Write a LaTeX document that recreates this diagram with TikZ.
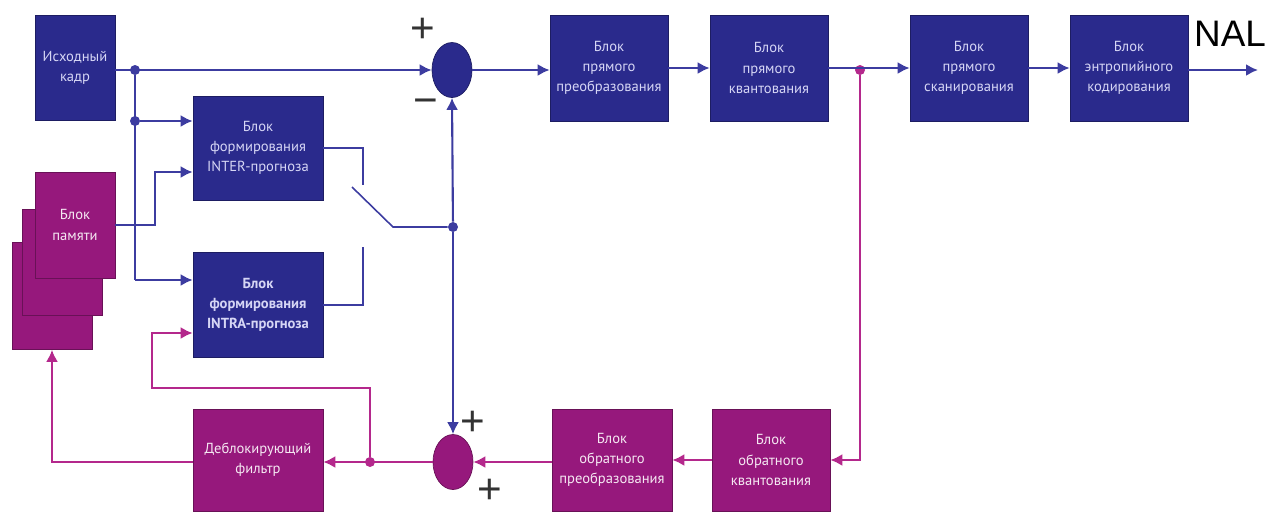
\documentclass[tikz,border=0pt]{standalone}
\usepackage{fontspec}
\setmainfont{PT Sans}
\newfontfamily\nalfont{Liberation Sans}
\usepackage{tikz}
\usetikzlibrary{arrows.meta,positioning,shapes.geometric,calc}
\definecolor{DarkBlue}{RGB}{42,42,140}
\definecolor{LineBlue}{RGB}{60,60,160}
\definecolor{Plum}{RGB}{150,24,124}
\definecolor{LinePlum}{RGB}{180,40,140}
\definecolor{BoxText}{RGB}{214,214,245}

\begin{document}
\begin{tikzpicture}[
 x=0.02cm, y=-0.02cm,
 blk/.style={draw=DarkBlue!70!black, fill=DarkBlue, text=BoxText, align=center,
   minimum width=2.36cm, minimum height=2.12cm, inner sep=1pt,
   font=\fontsize{8.3}{11.5}\selectfont},
 pblk/.style={blk, draw=Plum!70!black, fill=Plum, text=white!90!Plum},
 sumnode/.style={ellipse, draw=DarkBlue!70!black, fill=DarkBlue, minimum width=0.8cm, minimum height=1.1cm, inner sep=0pt},
 psumnode/.style={sumnode, draw=Plum!70!black, fill=Plum},
 sign/.style={inner sep=0pt, text=black!80, font=\nalfont\fontsize{24}{24}\selectfont},
 bl/.style={draw=LineBlue, line width=1.2pt},
 pl/.style={draw=LinePlum, line width=1.2pt},
 barr/.style={bl, -{Latex[length=2.4mm,width=2.4mm]}},
 parr/.style={pl, -{Latex[length=2.4mm,width=2.4mm]}},
 bdot/.style={circle, fill=LineBlue, inner sep=0pt, minimum size=0.2cm},
 pdot/.style={circle, fill=LinePlum, inner sep=0pt, minimum size=0.2cm}
]
\useasboundingbox (0,0) rectangle (1269,515);

% upper row
\node[blk, minimum width=1.6cm, minimum height=2.1cm] (src) at (75,68) {Исходный\\кадр};
\node[sumnode] (sub) at (452,70) {};
\node[blk] (dct) at (609,68) {Блок\\прямого\\преобразования};
\node[blk] (quant) at (769,68) {Блок\\прямого\\квантования};
\node[blk] (scan) at (969,68) {Блок\\прямого\\сканирования};
\node[blk] (ent) at (1129,68) {Блок\\энтропийного\\кодирования};
\node[font=\nalfont\fontsize{21}{21}\selectfont, inner sep=0pt] (nal) at (1230,34) {NAL};
\coordinate (out) at (1258,70);

% prediction
\node[blk, minimum width=2.6cm, minimum height=2.08cm] (inter) at (258,148) {Блок\\формирования\\INTER-прогноза};
\node[blk, minimum width=2.6cm, minimum height=2.1cm, font=\fontsize{8.3}{11.5}\selectfont\bfseries] (intra) at (258,305) {Блок\\формирования\\INTRA-прогноза};

% memory (stacked)
\node[pblk, minimum width=1.6cm, minimum height=2.14cm] (mem3) at (52,296) {};
\node[pblk, minimum width=1.6cm, minimum height=2.12cm] (mem2) at (62,262) {};
\node[pblk, minimum width=1.6cm, minimum height=2.12cm] (mem1) at (75,225) {Блок\\памяти};

% lower row
\node[pblk, minimum width=2.6cm, minimum height=2.04cm] (dbf) at (258,460) {Деблокирующий\\фильтр};
\node[psumnode] (add) at (453,462) {};
\node[pblk, minimum width=2.4cm, minimum height=2.04cm] (idct) at (612,460) {Блок\\обратного\\преобразования};
\node[pblk, minimum width=2.36cm, minimum height=2.04cm] (iquant) at (771,460) {Блок\\обратного\\квантования};

% signs
\node[sign] (p1) at (423,30) {+};
\node[sign] (m1) at (426,107) {−};
\node[sign] (p2) at (473,423) {+};
\node[sign] (p3) at (490,491) {+};

% junctions
\node[bdot] (j1) at (135,70) {};
\node[bdot] (j2) at (135,121) {};
\coordinate (j3) at (135,280);
\node[bdot] (jsw) at (453,227) {};
\node[pdot] (jq) at (860,70) {};
\node[pdot] (jd) at (370,462) {};
\coordinate (m0) at (155,172);
\coordinate (sw0) at (352,187);
\coordinate (sw1) at (363,185);
\coordinate (sw2) at (393,227);
\coordinate (sw3) at (363,247);
\coordinate (lp1) at (370,388);
\coordinate (lp2) at (152,388);
\coordinate (lp3) at (152,333);

% forward path
\draw[barr] (src.east |- j1) -- (sub);
\draw[barr] (sub) -- (dct.west |- sub);
\draw[barr] (dct) -- (quant);
\draw[barr] (quant) -- (scan);
\draw[barr] (scan) -- (ent);
\draw[barr] (ent.east |- out) -- (out);

% prediction inputs
\draw[bl] (j1) -- (j3);
\draw[barr] (j2) -- (j2 -| inter.west);
\draw[barr] (j3) -- (j3 -| intra.west);
\draw[barr] (mem1.east) -| (m0) -- (m0 -| inter.west);

% switch
\draw[bl, line width=0.9pt] (inter.east) -| (sw1);
\draw[bl, line width=0.9pt] (intra.east) -| (sw3);
\draw[bl, line width=0.9pt] (sw0) -- (sw2) -- (jsw);
\draw[barr] (jsw) -- (sub.south);
\draw[barr] (jsw) -- (add.north);

% reconstruction loop
\draw[parr] (jq) |- (iquant.east);
\draw[parr] (iquant) -- (idct);
\draw[parr] (idct.west |- add) -- (add);
\draw[parr] (add) -- (dbf.east |- add);
\draw[parr] (jd) -- (lp1) -- (lp2) -- (lp3) -- (lp3 -| intra.west);
\draw[parr] (dbf.west |- add) -| (mem3.south);
\end{tikzpicture}
\end{document}
